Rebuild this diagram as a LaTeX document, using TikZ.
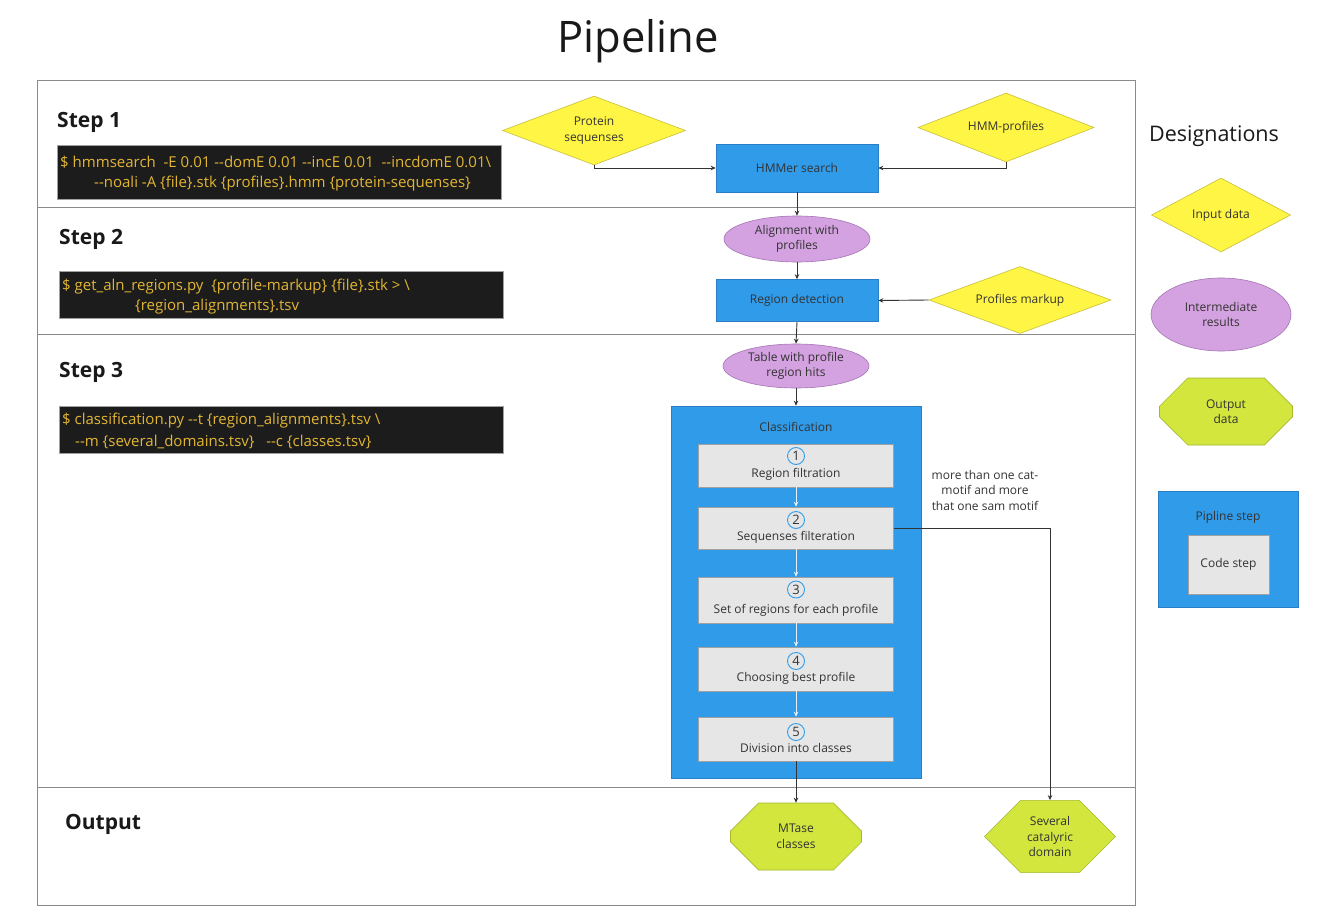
\documentclass[tikz,border=0pt]{standalone}
\usepackage{fontspec}
\setmainfont{Open Sans}
\usetikzlibrary{shapes.geometric,shapes.misc,arrows.meta}

\definecolor{framegray}{HTML}{8A8A8A}
\definecolor{procblue}{HTML}{2F9BE9}
\definecolor{procedge}{HTML}{2A7FC4}
\definecolor{yfill}{HTML}{FFF544}
\definecolor{yedge}{HTML}{C9BF3A}
\definecolor{pfill}{HTML}{D4A2E0}
\definecolor{pedge}{HTML}{A474B4}
\definecolor{gfill}{HTML}{D2E63E}
\definecolor{gedge}{HTML}{A6B72E}
\definecolor{codebg}{HTML}{1C1C1C}
\definecolor{codetxt}{HTML}{E2B634}
\definecolor{stepgray}{HTML}{E6E6E6}
\definecolor{stepedge}{HTML}{A0A0A0}
\definecolor{txt}{HTML}{333333}
\definecolor{linkc}{HTML}{333333}
\definecolor{innerlink}{HTML}{E4F0FA}

\tikzset{
  base/.style={font=\fontsize{12}{15.5}\selectfont, text=txt, align=center, inner sep=0pt},
  procbox/.style={base, rectangle, draw=procedge, fill=procblue, line width=0.6pt},
  inputd/.style={base, diamond, draw=yedge, fill=yfill, line width=0.6pt},
  interm/.style={base, ellipse, draw=pedge, fill=pfill, line width=0.6pt},
  outd/.style={base, chamfered rectangle, draw=gedge, fill=gfill, line width=0.6pt,
    chamfered rectangle xsep=33pt, chamfered rectangle ysep=16pt,
    minimum width=131pt, minimum height=67pt},
  codestep/.style={base, rectangle, draw=stepedge, fill=stepgray, line width=0.6pt,
    minimum width=195pt},
  numc/.style={circle, draw=procblue, fill=stepgray, line width=0.9pt, minimum size=17pt,
    inner sep=0pt, font=\fontsize{13}{13}\selectfont, text=txt},
  codebox/.style={rectangle, fill=codebg, draw=stepedge, line width=0.4pt, anchor=north west, inner sep=0pt},
  codeline/.style={anchor=west, inner sep=0pt, text=codetxt, font=\fontsize{15}{17}\selectfont},
  steplabel/.style={anchor=west, inner sep=0pt, text=black!90, font=\fontsize{21}{24}\selectfont\bfseries},
  link/.style={draw=linkc, line width=0.9pt, -{Stealth[length=5pt,width=4.5pt]}},
  innerarrow/.style={draw=innerlink, line width=0.9pt, -{Stealth[length=5pt,width=4.5pt]}},
}

\begin{document}
\begin{tikzpicture}[x=1pt,y=-1pt]
  \useasboundingbox (0,0) rectangle (1321,915);
  \fill[white] (0,0) rectangle (1321,915);

  % title
  \node[inner sep=0pt, text=black!90, font=\fontsize{43.5}{48}\selectfont] (title) at (638,41) {Pipeline};

  % outer frame and lanes
  \draw[framegray, line width=0.9pt] (37,80) rectangle (1135,905);
  \draw[framegray, line width=0.9pt] (37,207) -- (1135,207);
  \draw[framegray, line width=0.9pt] (37,334) -- (1135,334);
  \draw[framegray, line width=0.9pt] (37,787) -- (1135,787);

  % lane labels
  \node[steplabel] (s1) at (57,122.5) {Step 1};
  \node[steplabel] (s2) at (59,239.5) {Step 2};
  \node[steplabel] (s3) at (59,372.5) {Step 3};
  \node[steplabel] (s4) at (65,824.5) {Output};

  % command lines
  \node[codebox, minimum width=444pt, minimum height=54pt] (cb1) at (57,145) {};
  \node[codeline] (c1a) at (60,162.5) {\$ hmmsearch \ -E 0.01 -{}-domE 0.01 -{}-incE 0.01 \ -{}-incdomE 0.01\textbackslash};
  \node[codeline] (c1b) at (94,183.5) {-{}-noali -A \{file\}.stk \{profiles\}.hmm \{protein-sequenses\}};

  \node[codebox, minimum width=444pt, minimum height=47pt] (cb2) at (59,271) {};
  \node[codeline] (c2a) at (62,286.5) {\$ get\_aln\_regions.py \ \{profile-markup\} \{file\}.stk > \textbackslash};
  \node[codeline] (c2b) at (135,306.5) {\{region\_alignments\}.tsv};

  \node[codebox, minimum width=444pt, minimum height=47pt] (cb3) at (59,406) {};
  \node[codeline] (c3a) at (62,420.5) {\$ classification.py -{}-t \{region\_alignments\}.tsv \textbackslash};
  \node[codeline] (c3b) at (75,441.5) {-{}-m \{several\_domains.tsv\} \ \ -{}-c \{classes.tsv\}};

  % step 1
  \node[inputd, shape aspect=2.65, minimum width=183pt, minimum height=69pt] (prot) at (594,130.5) {Protein\\sequenses};
  \node[inputd, shape aspect=2.55, minimum width=176pt, minimum height=69pt] (hmmp) at (1006,127.5) {HMM-profiles};
  \node[procbox, minimum width=162pt, minimum height=48pt] (hmmer) at (797,168) {HMMer search};

  % step 2
  \node[interm, minimum width=146pt, minimum height=46pt] (aln) at (797,239) {Alignment with\\profiles};
  \node[procbox, minimum width=162pt, minimum height=42pt] (regdet) at (797,300.5) {Region detection};
  \node[inputd, shape aspect=2.7, minimum width=182pt, minimum height=67pt] (markup) at (1020,300) {Profiles markup};

  % step 3
  \node[interm, minimum width=146pt, minimum height=44pt] (table) at (796,366) {Table with profile\\region hits};
  \node[procbox, minimum width=250pt, minimum height=372pt] (classif) at (796,592) {};
  \node[base] (classt) at (796,427) {Classification};

  \node[codestep, minimum height=43pt] (b1) at (796,465.5) {};
  \node[codestep, minimum height=42pt] (b2) at (796,528) {};
  \node[codestep, minimum height=46pt] (b3) at (796,600) {};
  \node[codestep, minimum height=44pt] (b4) at (796,669) {};
  \node[codestep, minimum height=44pt] (b5) at (796,739) {};

  \node[numc] (n1) at (796,456) {1};
  \node[base] (t1) at (796,474) {Region filtration};
  \node[numc] (n2) at (796,520) {2};
  \node[base] (t2) at (796,537) {Sequenses filteration};
  \node[numc] (n3) at (796,589.5) {3};
  \node[base] (t3) at (796,610) {Set of regions for each profile};
  \node[numc] (n4) at (796,661) {4};
  \node[base] (t4) at (796,678) {Choosing best profile};
  \node[numc] (n5) at (796,732) {5};
  \node[base] (t5) at (796,748) {Division into classes};

  \node[base] (cond) at (985,490) {more than one cat-\\motif and more\\that one sam motif};

  % output
  \node[outd] (mtase) at (796,836.5) {MTase\\classes};
  \node[outd] (several) at (1050,836.5) {Several\\catalyric\\domain};

  % connectors
  \draw[link] (prot.south) |- (hmmer.west);
  \draw[link] (hmmp.south) |- (hmmer.east);
  \draw[link] (hmmer.south) -- (aln.north);
  \draw[link] (aln.south) -- (regdet.north);
  \draw[link] (markup.west) -- (regdet.east);
  \draw[link] (regdet.south) -- (table.north);
  \draw[link] (table.south) -- (classif.north);
  \draw[innerarrow] (b1.south) -- (b2.north);
  \draw[innerarrow] (b2.south) -- (b3.north);
  \draw[innerarrow] (b3.south) -- (b4.north);
  \draw[innerarrow] (b4.south) -- (b5.north);
  \draw[link] (b5.south) -- (mtase.north);
  \draw[link] (b2.east) -| (several.north);

  % legend
  \node[inner sep=0pt, text=black!90, font=\fontsize{21.5}{26}\selectfont] (legt) at (1214,136.5) {Designations};
  \node[inputd, shape aspect=1.88, minimum width=139pt, minimum height=74pt] (lin) at (1221,215) {Input data};
  \node[interm, minimum width=140pt, minimum height=73pt] (lint) at (1221,314.5) {Intermediate\\results};
  \node[outd, minimum width=133pt] (lout) at (1226,411.5) {Output\\data};
  \node[procbox, minimum width=140pt, minimum height=116pt] (lstep) at (1228,549) {};
  \node[base] (lstept) at (1228,517) {Pipline step};
  \node[codestep, minimum width=81pt, minimum height=59pt] (lcode) at (1228.5,564.5) {Code step};
\end{tikzpicture}
\end{document}
